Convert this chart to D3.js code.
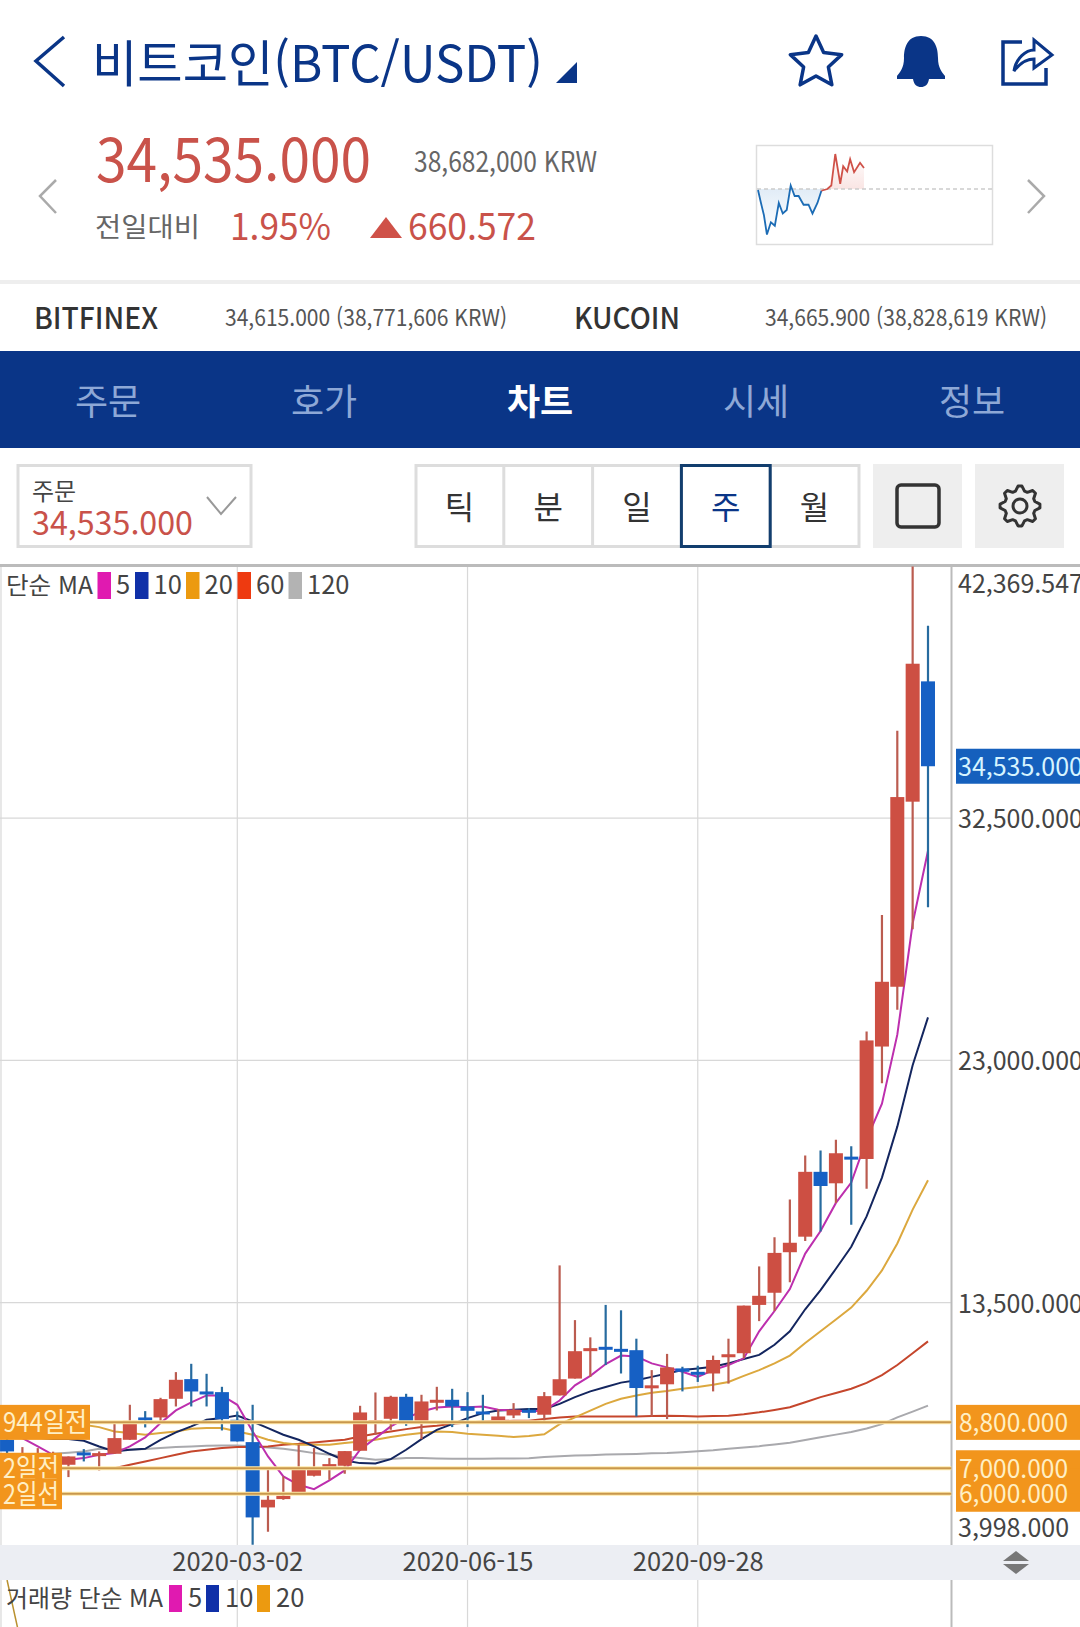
<!DOCTYPE html>
<html lang="ko">
<head>
<meta charset="utf-8">
<title>비트코인(BTC/USDT)</title>
<script src="https://cdn.jsdelivr.net/npm/d3@7"></script>
<style>
   html, body { margin: 0; padding: 0; background: #fff; }
   svg { display: block; }
   text { font-family: "Noto Sans CJK KR", "Noto Sans", sans-serif; }
</style>
</head>
<body>
<svg id="chart" width="1080" height="1627"></svg>
<script>
const weeks = [
   "2019-11-18","2019-11-25","2019-12-02","2019-12-09","2019-12-16","2019-12-23","2019-12-30",
   "2020-01-06","2020-01-13","2020-01-20","2020-01-27","2020-02-03","2020-02-10","2020-02-17",
   "2020-02-24","2020-03-02","2020-03-09","2020-03-16","2020-03-23","2020-03-30","2020-04-06",
   "2020-04-13","2020-04-20","2020-04-27","2020-05-04","2020-05-11","2020-05-18","2020-05-25",
   "2020-06-01","2020-06-08","2020-06-15","2020-06-22","2020-06-29","2020-07-06","2020-07-13",
   "2020-07-20","2020-07-27","2020-08-03","2020-08-10","2020-08-17","2020-08-24","2020-08-31",
   "2020-09-07","2020-09-14","2020-09-21","2020-09-28","2020-10-05","2020-10-12","2020-10-19",
   "2020-10-26","2020-11-02","2020-11-09","2020-11-16","2020-11-23","2020-11-30","2020-12-07",
   "2020-12-14","2020-12-21","2020-12-28","2021-01-04","2021-01-11"
];
const dateTicks = ["2020-03-02", "2020-06-15", "2020-09-28"];
const priceTicks = [42369.547, 32500, 23000, 13500, 3998];

const opens = [8117,7150,7050,7200,7137,7621,7568,7568,8117,8993,8993,9725,10496,10012,9986,8902,8026,5464,5791,6000,6706,7098,7098,7686,8836,8941,9803,8771,9620,9686,9424,9228,8823,9071,9294,9100,9856,10518,11645,11764,11684,11631,10160,10293,10916,10783,10717,11406,11512,13407,13884,15474,16083,18627,18177,19223,19131,23541,25886,33145,37864];
const highs = [8300,7830,7790,7650,7464,7751,7660,8771,9490,9241,9764,10771,11097,10705,10195,9228,9490,6941,6680,7921,7791,7398,7673,9450,9973,9843,9921,9882,10195,10117,9986,9882,9320,9555,9359,9988,14957,12811,12135,13407,13195,12082,10850,11486,10982,11022,11419,12082,13380,14917,16057,17541,19263,19462,19886,19634,24127,28696,35926,42369,40044];
const lows = [7500,6900,6800,7000,6654,7268,6915,7568,8117,8601,8836,9424,9424,9424,8483,8052,4000,4510,5765,5961,6680,6549,6784,7686,8313,8509,8666,8143,9267,8614,8614,8836,8797,8967,8967,8862,9856,10518,10585,11048,10717,9034,9034,8928,10015,10386,10015,10320,11313,12771,13168,14295,15911,16282,17408,16547,17965,22098,24984,28140,29000];
const closes = [7660,7400,7300,7350,7464,7594,7594,8183,8862,8941,9712,10470,10012,9960,8928,8052,5072,5765,5922,6980,7046,7163,7673,9189,8888,9803,8836,9620,9686,9424,9254,9176,9032,9294,9189,9829,10492,11592,11711,11711,11631,10147,10253,10956,10783,10730,11247,11472,13380,13765,15447,15845,18627,18071,19356,19157,23781,26081,33326,38556,34535];

const ma5 = [8600,8183,7856,7529,7333,7398,7529,7594,7856,8209,8771,9268,9581,9856,9856,9490,8444,7464,6680,6353,6183,6523,6915,7725,8183,8640,8967,9228,9385,9424,9398,9424,9294,9268,9228,9268,9657,10253,10624,11088,11419,11380,11115,10956,10783,10585,10850,11048,11313,12373,13168,14030,15421,16308,17408,18203,19900,21302,24007,28366,31221];
const ma10 = [8250,8250,8200,8150,8143,8078,7856,7660,7725,7764,8117,8405,8640,8902,8967,9071,8836,8575,8313,8117,7856,7568,7307,7202,7189,7359,7725,8143,8509,8732,8967,9163,9268,9294,9320,9326,9525,9790,10015,10187,10359,10452,10585,10717,10850,10916,10982,11115,11287,11446,11843,12373,13235,13990,14825,15686,16878,18400,20400,22805,24683];
const ma20 = [8900,8850,8800,8760,8730,8705,8614,8444,8379,8313,8379,8444,8549,8575,8575,8444,8313,8117,7987,7921,7921,7921,7987,8052,8117,8222,8313,8379,8444,8418,8353,8313,8274,8226,8266,8332,8730,8995,9260,9525,9723,9856,9962,10028,10121,10187,10280,10386,10624,10850,11115,11419,11910,12373,12837,13301,13963,14758,15818,17143,18296];
const ma60 = [6950,6950,6960,6960,6970,6975,6980,7006,7137,7268,7398,7529,7660,7725,7791,7830,7830,7856,7921,7960,8013,8065,8117,8248,8353,8444,8535,8614,8666,8745,8797,8836,8849,8862,8862,8928,8995,9034,9034,9034,9034,9034,9048,9061,9048,9034,9048,9061,9114,9193,9286,9392,9591,9790,9949,10121,10346,10651,11048,11512,11976];
const ma120 = [7500,7520,7540,7568,7610,7660,7764,7751,7725,7751,7791,7830,7856,7882,7895,7895,7856,7817,7764,7686,7594,7529,7464,7398,7333,7359,7398,7398,7385,7372,7372,7372,7385,7385,7391,7444,7471,7497,7511,7537,7550,7564,7590,7603,7630,7670,7709,7762,7815,7868,7935,8001,8107,8213,8319,8425,8557,8730,8995,9220,9458];

const volumeMa20 = [1000, 420];

const maNames = ["5", "10", "20", "60", "120"];
const volumeMaNames = ["5", "10", "20"];
const priceLines = [8800, 7000, 6000];
const priceLineLabels = ["944일전", "2일전", "2일선"];

// rough shape of the small preview, offset from the dashed base line
const sparkHours = [0,3,6,9,13,17,21,25,29,33,37,41,46,51,55,60,64,70,74,78,83,86,90,93,97,103,107];
const sparkValues = [-3,-40,-75,-130,-95,-105,-40,-70,-60,10,-20,-20,-45,-45,-70,-40,-5,0,10,100,15,65,50,85,48,75,60];

const tabs = ["주문", "호가", "차트", "시세", "정보"];
const periods = ["틱", "분", "일", "주", "월"];

const navy = "#0a3587", red = "#c9524a", gridColor = "#d8d8d8";
const svg = d3.select("#chart");

function txt(x, y, str, size, color, o = {}) {
   const t = svg.append("text")
      .attr("x", x).attr("y", y)
      .attr("font-size", size)
      .attr("fill", color)
      .attr("text-anchor", o.anchor || "start")
      .attr("font-weight", o.weight || 400)
      .text(str);
   if (o.width) t.attr("textLength", o.width).attr("lengthAdjust", "spacingAndGlyphs");
   return t;
}

function chevron(points, color, width) {
   svg.append("path")
      .attr("d", d3.line()(points))
      .attr("fill", "none")
      .attr("stroke", color)
      .attr("stroke-width", width);
}

// ---------- header ----------
chevron([[64, 37], [36, 61], [64, 86]], navy, 3.5);
txt(92, 82, "비트코인(BTC/USDT)", 50, navy, { width: 451 });
svg.append("path").attr("d", "M556 83L577 83L577 62Z").attr("fill", navy);

const star = d3.lineRadial().curve(d3.curveLinearClosed)(
   d3.range(10).map(i => [i * Math.PI / 5, i % 2 ? 13 : 27])
);
svg.append("path").attr("d", star).attr("transform", "translate(816,63)")
   .attr("fill", "none").attr("stroke", navy).attr("stroke-width", 3.5).attr("stroke-linejoin", "round");

svg.append("path")
   .attr("d", "M921 36C935 36 938 48 938 58C938 68 942 72 945 76L945 79L929 79C928 85 925 87 921 87C917 87 914 85 913 79L897 79L897 76C900 72 904 68 904 58C904 48 907 36 921 36Z")
   .attr("fill", navy);

svg.append("path")
   .attr("d", "M1022 42L1003 42L1003 84L1046 84L1046 68")
   .attr("fill", "none").attr("stroke", navy).attr("stroke-width", 3.5);
svg.append("path")
   .attr("d", "M1014 71C1016 58 1026 50 1034 50L1034 40L1052 55L1034 68L1034 59C1026 59 1020 63 1014 71Z")
   .attr("fill", "none").attr("stroke", navy).attr("stroke-width", 3);

chevron([[56, 180], [40, 196], [56, 213]], "#aaa", 2.5);
chevron([[1028, 180], [1044, 196], [1028, 213]], "#aaa", 2.5);

txt(96, 182, "34,535.000", 60, red, { width: 275 });
txt(414, 172, "38,682,000 KRW", 28, "#666", { width: 183 });
txt(95, 237, "전일대비", 27, "#666", { width: 105 });
txt(230, 240, "1.95%", 37, red, { width: 101 });
svg.append("path").attr("d", "M370 238L386 217L402 238Z").attr("fill", "#cf5148");
txt(408, 240, "660.572", 37, red, { width: 128 });

// ---------- preview chart ----------
svg.append("rect").attr("x", 756.5).attr("y", 145.5).attr("width", 236).attr("height", 99)
   .attr("fill", "#fff").attr("stroke", "#ddd").attr("stroke-width", 1.5);
const sparkX = d3.scaleLinear().domain([0, 107]).range([758, 864]);
const sparkY = d3.scaleLinear().domain([0, 100]).range([189, 154]);
const sparkPts = sparkHours.map((h, i) => [h, sparkValues[i]]);
const sparkSplit = 17;
const sparkArea = d3.area().x(d => sparkX(d[0])).y0(sparkY(0)).y1(d => sparkY(d[1]));
const sparkLine = d3.line().x(d => sparkX(d[0])).y(d => sparkY(d[1]));
const sparkDefs = svg.append("defs");
[["sparkBlue", "#1a6fc0", 0.14, 0], ["sparkRed", "#d9534a", 0, 0.16]].forEach(g => {
   const lg = sparkDefs.append("linearGradient").attr("id", g[0])
      .attr("x1", 0).attr("x2", 0).attr("y1", 0).attr("y2", 1);
   lg.append("stop").attr("offset", 0).attr("stop-color", g[1]).attr("stop-opacity", g[2]);
   lg.append("stop").attr("offset", 1).attr("stop-color", g[1]).attr("stop-opacity", g[3]);
});
svg.append("path").attr("d", sparkArea(sparkPts.slice(0, sparkSplit))).attr("fill", "url(#sparkBlue)");
svg.append("path").attr("d", sparkArea(sparkPts.slice(sparkSplit - 1))).attr("fill", "url(#sparkRed)");
svg.append("line").attr("x1", 757).attr("x2", 992).attr("y1", sparkY(0)).attr("y2", sparkY(0))
   .attr("stroke", "#ccc").attr("stroke-width", 1.5).attr("stroke-dasharray", "4 3");
svg.append("path").attr("d", sparkLine(sparkPts.slice(0, sparkSplit)))
   .attr("fill", "none").attr("stroke", "#1c6cb5").attr("stroke-width", 1.8);
svg.append("path").attr("d", sparkLine(sparkPts.slice(sparkSplit - 1)))
   .attr("fill", "none").attr("stroke", "#cf5148").attr("stroke-width", 1.8);

// ---------- exchanges ----------
svg.append("rect").attr("x", 0).attr("y", 280).attr("width", 1080).attr("height", 4).attr("fill", "#eee");
txt(34, 329, "BITFINEX", 30, "#333", { width: 124, weight: 500 });
txt(225, 326, "34,615.000 (38,771,606 KRW)", 23, "#555", { width: 282 });
txt(574, 329, "KUCOIN", 30, "#333", { width: 106, weight: 500 });
txt(765, 326, "34,665.900 (38,828,619 KRW)", 23, "#555", { width: 282 });

// ---------- tabs ----------
svg.append("rect").attr("x", 0).attr("y", 351).attr("width", 1080).attr("height", 97).attr("fill", navy);
tabs.forEach((t, i) => {
   const on = t === "차트";
   txt(108 + i * 216, 415, t, 36, on ? "#fff" : "#8ea8d6", { anchor: "middle", weight: on ? 700 : 400 });
});

// ---------- toolbar ----------
svg.append("rect").attr("x", 18).attr("y", 465.5).attr("width", 233).attr("height", 81)
   .attr("fill", "#fff").attr("stroke", "#ddd").attr("stroke-width", 3);
txt(32, 500, "주문", 24, "#444");
txt(32, 535, "34,535.000", 33, red, { width: 161 });
chevron([[207, 497], [221, 514], [236, 497]], "#999", 2);

const periodX = d3.scaleBand().domain(periods).range([415, 859]);
svg.append("rect").attr("x", 416).attr("y", 465.5).attr("width", 443).attr("height", 81)
   .attr("fill", "#fff").attr("stroke", "#ddd").attr("stroke-width", 3);
periods.forEach(p => {
   const left = periodX(p);
   if (p !== "틱") {
      svg.append("line").attr("x1", left).attr("x2", left).attr("y1", 465).attr("y2", 547)
         .attr("stroke", "#ddd").attr("stroke-width", 3);
   }
   txt(left + periodX.bandwidth() / 2, 519, p, 32, p === "주" ? navy : "#333", { anchor: "middle" });
});
svg.append("rect").attr("x", periodX("주")).attr("y", 465.5).attr("width", periodX.bandwidth()).attr("height", 81)
   .attr("fill", "none").attr("stroke", "#123e6e").attr("stroke-width", 3);

svg.append("rect").attr("x", 873).attr("y", 464).attr("width", 89).attr("height", 84).attr("fill", "#eee");
svg.append("rect").attr("x", 897).attr("y", 485).attr("width", 42).attr("height", 42).attr("rx", 4)
   .attr("fill", "none").attr("stroke", "#333").attr("stroke-width", 3.5);
svg.append("rect").attr("x", 975).attr("y", 464).attr("width", 89).attr("height", 84).attr("fill", "#eee");
const gear = d3.lineRadial().curve(d3.curveLinearClosed)(
   d3.range(32).map(i => [i * Math.PI / 16 - Math.PI / 32, [20, 20, 15.5, 15.5][i % 4]])
);
svg.append("path").attr("d", gear).attr("transform", "translate(1020,506)")
   .attr("fill", "none").attr("stroke", "#333").attr("stroke-width", 3).attr("stroke-linejoin", "round");
svg.append("circle").attr("cx", 1020).attr("cy", 506).attr("r", 7)
   .attr("fill", "none").attr("stroke", "#333").attr("stroke-width", 3);

// ---------- main chart ----------
const x = d3.scalePoint().domain(weeks).range([7.05, 928]);
const y = d3.scaleLinear().domain([3998, 42369.547]).range([1544.8, 566.5]);
const volumeY = d3.scaleLinear().domain([0, 1000]).range([1700, 1580]);
const axisX = 951.5, bodyW = 14;

svg.select("defs").append("clipPath").attr("id", "plot")
   .append("rect").attr("x", 0).attr("y", 566).attr("width", axisX).attr("height", 979);
svg.select("defs").append("clipPath").attr("id", "volume")
   .append("rect").attr("x", 0).attr("y", 1580).attr("width", axisX).attr("height", 47);

// vertical grid through both panes
svg.selectAll(".vgrid").data(dateTicks).join("line").attr("class", "vgrid")
   .attr("x1", d => x(d)).attr("x2", d => x(d)).attr("y1", 566).attr("y2", 1627)
   .attr("stroke", gridColor).attr("stroke-width", 1.2);
svg.append("line").attr("x1", 1).attr("x2", 1).attr("y1", 566).attr("y2", 1627)
   .attr("stroke", gridColor).attr("stroke-width", 1.2);
svg.selectAll(".hgrid").data(priceTicks.slice(1, 4)).join("line").attr("class", "hgrid")
   .attr("x1", 0).attr("x2", axisX).attr("y1", d => y(d)).attr("y2", d => y(d))
   .attr("stroke", gridColor).attr("stroke-width", 1.2);
svg.append("line").attr("x1", axisX).attr("x2", axisX).attr("y1", 566).attr("y2", 1627)
   .attr("stroke", "#bbb").attr("stroke-width", 2);
svg.append("rect").attr("x", 0).attr("y", 564).attr("width", 1080).attr("height", 3).attr("fill", "#bbb");

const plot = svg.append("g").attr("clip-path", "url(#plot)");

// moving averages sit under the candles
const maLine = d3.line().x((d, i) => x(weeks[i])).y(d => y(d));
[[ma120, "#a9a9ad"], [ma60, "#c5462c"], [ma20, "#dca83e"], [ma10, "#14265f"], [ma5, "#bd2fae"]].forEach(m => {
   plot.append("path").attr("d", maLine(m[0]))
      .attr("fill", "none").attr("stroke", m[1]).attr("stroke-width", 2);
});

const candles = weeks.map((w, i) => ({ w, o: opens[i], h: highs[i], l: lows[i], c: closes[i] }));
const isUp = d => d.c >= d.o;
plot.selectAll(".wick").data(candles).join("line").attr("class", "wick")
   .attr("x1", d => x(d.w)).attr("x2", d => x(d.w))
   .attr("y1", d => y(d.h)).attr("y2", d => y(d.l))
   .attr("stroke", d => isUp(d) ? "#bb5c50" : "#276b9f").attr("stroke-width", 2.2);
plot.selectAll(".body").data(candles).join("rect").attr("class", "body")
   .attr("x", d => x(d.w) - bodyW / 2).attr("width", bodyW)
   .attr("y", d => y(Math.max(d.o, d.c)))
   .attr("height", d => Math.max(3, y(Math.min(d.o, d.c)) - y(Math.max(d.o, d.c))))
   .attr("fill", d => isUp(d) ? "#cd4f43" : "#1660c4");

// fixed price lines with their tags
plot.selectAll(".plineGlow").data(priceLines).join("line").attr("class", "plineGlow")
   .attr("x1", 0).attr("x2", axisX).attr("y1", d => y(d)).attr("y2", d => y(d))
   .attr("stroke", "#ffe9a8").attr("stroke-width", 4);
plot.selectAll(".pline").data(priceLines).join("line").attr("class", "pline")
   .attr("x1", 0).attr("x2", axisX).attr("y1", d => y(d)).attr("y2", d => y(d))
   .attr("stroke", "#c8974d").attr("stroke-width", 2);

const tagFill = "#f2951c", tagText = "#ffefc4";
const tagWidths = [90, 62, 62];
priceLines.forEach((p, i) => {
   const h = i === 0 ? 35 : 31;
   svg.append("rect").attr("x", 0).attr("y", y(p) - h / 2).attr("width", tagWidths[i]).attr("height", h).attr("fill", tagFill);
   txt(3, y(p) + 10, priceLineLabels[i], 27, tagText, { width: tagWidths[i] - 6 });
});

// price axis
const axisRight = d3.axisRight(y).tickValues(priceTicks).tickSize(0).tickPadding(0).tickFormat(d3.format(",.3f"));
svg.append("g").attr("transform", `translate(958,0)`).call(axisRight)
   .call(g => g.select(".domain").remove())
   .call(g => g.selectAll("text")
      .attr("font-size", 25).attr("fill", "#444")
      .attr("font-family", '"Noto Sans CJK KR", "Noto Sans", sans-serif')
      .attr("dy", d => d === 42369.547 ? 26 : d === 3998 ? -8 : 9.5));

priceLines.forEach(p => {
   svg.append("rect").attr("x", 956).attr("width", 124).attr("y", y(p) - (p === 8800 ? 17.5 : 18)).attr("height", p === 8800 ? 35 : 36).attr("fill", tagFill);
});
svg.append("rect").attr("x", 956).attr("width", 124).attr("y", y(7000)).attr("height", y(6000) - y(7000)).attr("fill", tagFill);
priceLines.forEach(p => {
   txt(959, y(p) + 9.5, d3.format(",.3f")(p), 25, tagText, { width: 109 });
});

const lastClose = closes[closes.length - 1];
svg.append("rect").attr("x", 956).attr("y", y(lastClose) - 17.5).attr("width", 124).attr("height", 35).attr("fill", "#1560bd");
txt(958, y(lastClose) + 9.5, d3.format(",.3f")(lastClose), 25, "#d6f4ff");

// date band
svg.append("rect").attr("x", 0).attr("y", 1545).attr("width", 1080).attr("height", 35).attr("fill", "#eceef3");
const axisBottom = d3.axisBottom(x).tickValues(dateTicks).tickSize(0).tickPadding(0);
svg.append("g").attr("transform", "translate(0,1553)").call(axisBottom)
   .call(g => g.select(".domain").remove())
   .call(g => g.selectAll("text")
      .attr("font-size", 25.5).attr("fill", "#444")
      .attr("font-family", '"Noto Sans CJK KR", "Noto Sans", sans-serif'));
svg.append("path").attr("d", "M1003 1561L1016 1551L1029 1561Z").attr("fill", "#777");
svg.append("path").attr("d", "M1003 1564L1016 1574L1029 1564Z").attr("fill", "#777");

// ---------- legends ----------
const maSwatch = ["#e01ab0", "#1030a8", "#ec9a10", "#ee3a10", "#b3b3b3"];
const legendX = [97.5, 135, 186, 237.5, 288.5];
txt(6, 594, "단순 MA", 24, "#444", { width: 87 });
maNames.forEach((n, i) => {
   svg.append("rect").attr("x", legendX[i]).attr("y", 572).attr("width", 13.5).attr("height", 27).attr("fill", maSwatch[i]);
   txt(legendX[i] + 18.5, 594, n, 25.5, "#444");
});

svg.append("path").attr("clip-path", "url(#volume)")
   .attr("d", d3.line().x((d, i) => x(weeks[i])).y(d => volumeY(d))(volumeMa20))
   .attr("fill", "none").attr("stroke", "#b9912f").attr("stroke-width", 1.5);

const volumeLegendX = [169, 206, 257];
txt(6, 1607, "거래량 단순 MA", 24, "#444", { width: 157 });
volumeMaNames.forEach((n, i) => {
   svg.append("rect").attr("x", volumeLegendX[i]).attr("y", 1585).attr("width", 13).attr("height", 27).attr("fill", maSwatch[i]);
   txt(volumeLegendX[i] + 19, 1607, n, 25.5, "#444");
});
</script>
</body>
</html>
